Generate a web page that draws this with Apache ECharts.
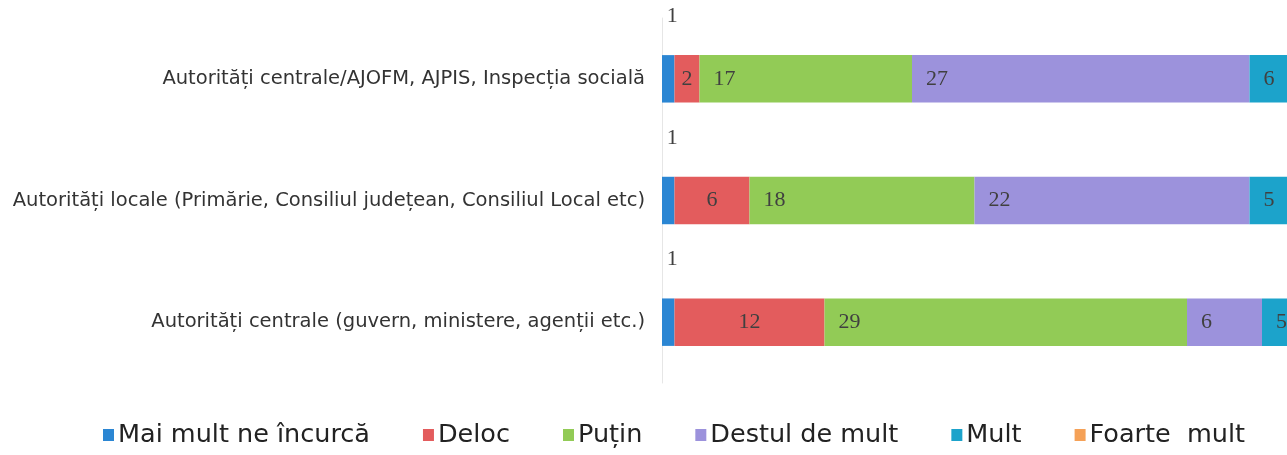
<!DOCTYPE html>
<html>
<head>
<meta charset="utf-8">
<script src="https://cdn.jsdelivr.net/npm/echarts@6/dist/echarts.min.js"></script>
<style>
  html, body { margin: 0; padding: 0; background: #fff; }
  #chart { width: 1287px; height: 455px; }
</style>
</head>
<body>
<div id="chart"></div>
<script>
// categorii (de sus in jos)
const categories = [
  'Autorități centrale/AJOFM, AJPIS, Inspecția socială',
  'Autorități locale (Primărie, Consiliul județean, Consiliul Local etc)',
  'Autorități centrale (guvern, ministere, agenții etc.)'
];
const seriesNames = ['Mai mult ne încurcă', 'Deloc', 'Puțin', 'Destul de mult', 'Mult', 'Foarte  mult'];
const maiMult = [1, 1, 1];
const deloc = [2, 6, 12];
const putin = [17, 18, 29];
const destul = [27, 22, 6];
const mult = [6, 5, 5];
const foarte = [0, 0, 0];

const colors = ['#2b86d3', '#e35c5d', '#92cb56', '#9c92dc', '#1ca3cb', '#f5a157'];

const labelFont = { fontFamily: 'Liberation Serif', fontSize: 22, color: '#404040' };

function mk(name, data, color, label) {
  return {
    name: name, type: 'bar', stack: 'total', data: data,
    barWidth: '39%',
    itemStyle: { color: color },
    label: Object.assign({ show: true }, labelFont, label),
    emphasis: { disabled: true }
  };
}

const chart = echarts.init(document.getElementById('chart'));
chart.setOption({
  animation: false,
  grid: { left: 662, right: 0, top: 18, bottom: 72, containLabel: false },
  xAxis: {
    type: 'value', min: 0, max: 50,
    show: false
  },
  yAxis: {
    type: 'category', data: categories, inverse: true,
    axisLine: { show: true, lineStyle: { color: '#e6e6e6', width: 1 } },
    axisTick: { show: false },
    axisLabel: { fontFamily: 'DejaVu Sans', fontSize: 19.5, color: '#333', margin: 17 }
  },
  legend: {
    bottom: 2, left: 98,
    itemWidth: 11, itemHeight: 12, itemGap: 53,
    icon: 'rect',
    textStyle: { fontFamily: 'DejaVu Sans', fontSize: 25.5, color: '#222', padding: [0, 0, 0, -1] },
    data: seriesNames
  },
  series: [
    mk(seriesNames[0], maiMult, colors[0], { position: 'top', distance: 28, offset: [4, 0] }),
    mk(seriesNames[1], deloc, colors[1], { position: 'inside' }),
    mk(seriesNames[2], putin, colors[2], { position: 'insideLeft', distance: 14 }),
    mk(seriesNames[3], destul, colors[3], { position: 'insideLeft', distance: 14 }),
    mk(seriesNames[4], mult, colors[4], { position: 'insideLeft', distance: 14 }),
    mk(seriesNames[5], foarte, colors[5], { show: false })
  ]
});
</script>
</body>
</html>
